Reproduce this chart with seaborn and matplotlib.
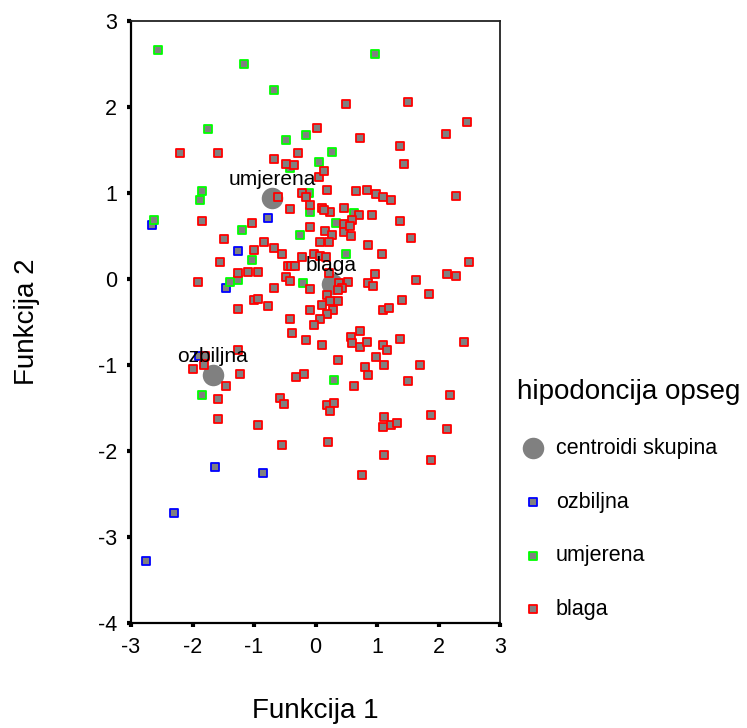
import numpy as np
import pandas as pd
import seaborn as sns
import matplotlib.pyplot as plt

# discriminant scores (Funkcija 1 / Funkcija 2)
ozbiljna_x = [-2.66, -0.77, -1.26, -1.45, -1.89, -1.64, -0.86, -2.30, -2.75]
ozbiljna_y = [0.63, 0.71, 0.32, -0.10, -0.89, -2.19, -2.26, -2.72, -3.28]

umjerena_x = [-2.56, -1.16, -0.68, -1.75, -0.48, -0.15, -0.42, 0.05, -1.84, -1.88,
              -2.62, -1.19, -0.11, -0.09, 0.96, 0.27, 0.63, 0.34, 0.50, -0.25,
              -1.03, -1.39, -1.26, -0.21, 0.30, -1.84]
umjerena_y = [2.66, 2.50, 2.20, 1.74, 1.62, 1.67, 1.29, 1.36, 1.02, 0.92,
              0.69, 0.57, 1.00, 0.78, 2.62, 1.48, 0.77, 0.65, 0.29, 0.51,
              0.22, -0.03, -0.01, -0.05, -1.17, -1.35]

blaga_x = [-2.20, -1.59, 0.03, -0.68, -0.48, -0.35, -0.28, 0.05, -1.84, -1.03,
           -0.61, -0.41, -0.22, -0.15, -0.09, -0.09, 0.50, 1.50, 2.46, 2.12,
           0.73, 1.38, 1.44, 0.14, 0.19, 0.66, 0.83, 0.99, 1.09, 1.22,
           2.29, 0.11, 0.24, 0.14, 0.46, 0.70, 0.92, 1.38, 0.60, 1.55,
           0.15, 0.27, 0.07, 0.22, 0.46, 0.46, 0.57, 0.56, 0.86, 1.08,
           -0.03, 0.07, 0.17, -0.22, 2.49, 0.96, 2.13, 2.29, 1.64, 1.84,
           0.86, 0.93, 0.53, 0.38, 0.43, 0.37, -0.09, 0.18, 0.37, 0.24,
           0.10, 0.29, 0.18, 0.08, -0.03, -0.09, 1.41, 1.09, 1.19, -0.15,
           0.11, 0.57, 0.73, 0.60, 0.73, 0.84, 1.09, 1.16, 1.38, 2.42,
           0.99, 0.37, 0.80, 0.86, 1.12, 1.70, -0.18, 0.63, 1.50, 2.19,
           0.19, 0.30, 0.24, 1.87, 1.12, 1.09, 1.22, 1.32, 2.13, 0.21,
           1.12, 1.87, 0.76, -1.58, -0.93, -0.54, -1.49, -0.84, -0.67, -0.54,
           -1.00, -1.55, -0.45, -0.40, -0.34, -1.26, -1.10, -0.93, -1.91, -0.48,
           -0.41, -0.67, -1.00, -0.93, -0.77, -1.26, -0.41, -0.38, -1.26, -1.79,
           -2.00, -1.81, -1.23, -1.45, -1.58, -0.57, -0.51, -0.31, 0.22]
blaga_y = [1.46, 1.46, 1.76, 1.39, 1.34, 1.32, 1.46, 1.19, 0.67, 0.65,
           0.95, 0.81, 1.00, 0.95, 0.86, 0.61, 2.03, 2.06, 1.83, 1.69,
           1.64, 1.55, 1.34, 1.25, 1.04, 1.02, 1.04, 0.99, 0.95, 0.92,
           0.97, 0.83, 0.78, 0.80, 0.83, 0.74, 0.74, 0.67, 0.69, 0.48,
           0.56, 0.51, 0.43, 0.43, 0.64, 0.55, 0.50, 0.62, 0.39, 0.29,
           0.29, 0.27, 0.25, 0.25, 0.20, 0.06, 0.06, 0.04, -0.01, -0.17,
           -0.05, -0.08, -0.03, -0.05, -0.11, -0.13, -0.12, -0.19, -0.26, -0.26,
           -0.30, -0.36, -0.41, -0.46, -0.53, -0.36, -0.24, -0.36, -0.34, -0.71,
           -0.77, -0.67, -0.61, -0.75, -0.79, -0.73, -0.77, -0.82, -0.70, -0.73,
           -0.91, -0.94, -1.02, -1.12, -1.00, -1.00, -1.10, -1.24, -1.19, -1.35,
           -1.46, -1.44, -1.54, -1.58, -1.60, -1.72, -1.70, -1.68, -1.74, -1.89,
           -2.05, -2.10, -2.28, -1.63, -1.70, -1.93, 0.46, 0.43, 0.36, 0.29,
           0.34, 0.20, 0.15, 0.15, 0.15, 0.07, 0.08, 0.08, -0.03, 0.02,
           -0.02, -0.10, -0.25, -0.23, -0.31, -0.35, -0.47, -0.63, -0.83, -0.89,
           -1.05, -1.00, -1.10, -1.24, -1.40, -1.38, -1.45, -1.14, 0.07]

centroid_names = ['ozbiljna', 'umjerena', 'blaga']
centroid_x = [-1.67, -0.71, 0.26]
centroid_y = [-1.12, 0.94, -0.06]

group_colors = {'ozbiljna': '#0000ff', 'umjerena': '#00ff00', 'blaga': '#ff0000'}

groups = {'ozbiljna': (ozbiljna_x, ozbiljna_y),
          'umjerena': (umjerena_x, umjerena_y),
          'blaga': (blaga_x, blaga_y)}

sns.set_style('white')
plt.rcParams['font.family'] = ['Liberation Sans', 'DejaVu Sans']
plt.rcParams['axes.unicode_minus'] = False
#plain black text like the SPSS output
for key in ['text.color', 'axes.labelcolor', 'xtick.color', 'ytick.color']:
    plt.rcParams[key] = 'black'

fig = plt.figure(figsize=(7.47, 7.28), dpi=100)
ax = fig.add_axes([0.1754, 0.1442, 0.4940, 0.8270])

# group centroids go underneath the cases
sns.scatterplot(x=centroid_x, y=centroid_y, color='#808080', s=240, linewidth=0,
                marker='o', label='centroidi skupina', ax=ax, zorder=2)

for name, (gx, gy) in groups.items():
    sns.scatterplot(x=gx, y=gy, color='#808080', edgecolor=group_colors[name],
                    marker='s', s=31, linewidth=1.3, label=name, ax=ax, zorder=3)

for name, cx, cy in zip(centroid_names, centroid_x, centroid_y):
    ax.annotate(name, (cx, cy), xytext=(0, 13.5), textcoords='offset points',
                ha='center', va='center', fontsize=15, color='black', zorder=5)

ax.set_xlim(-3, 3)
ax.set_ylim(-4, 3)
ax.set_xticks(range(-3, 4))
ax.set_yticks(range(-4, 4))
ax.tick_params(direction='out', length=3, width=3, color='black', labelcolor='black',
               labelsize=15.5, pad=7, bottom=True, left=True)

for pos in ['left', 'bottom']:
    ax.spines[pos].set_color('black')
    ax.spines[pos].set_linewidth(1.6)
for pos in ['top', 'right']:
    ax.spines[pos].set_color('#222222')
    ax.spines[pos].set_linewidth(1.3)

ax.set_xlabel('Funkcija 1', fontsize=20, color='black')
ax.set_ylabel('Funkcija 2', fontsize=20, color='black')
ax.xaxis.set_label_coords(0.5, -0.124)
ax.yaxis.set_label_coords(-0.247, 0.5)

leg = ax.legend(loc='center left', bbox_to_anchor=(0.6917, 0.3136),
                bbox_transform=fig.transFigure, frameon=False,
                title='hipodoncija opseg', title_fontsize=20, fontsize=15.5,
                alignment='left', borderpad=0, borderaxespad=0,
                handlelength=1.5, handletextpad=0.31, labelspacing=1.52)
for t in leg.get_texts():
    t.set_color('black')
leg.get_title().set_color('black')

fig.savefig('out.png', dpi=100)
